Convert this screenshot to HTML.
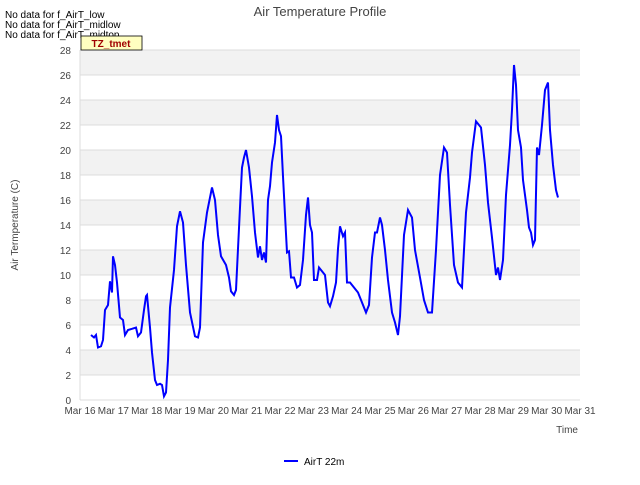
<!DOCTYPE html>
<html><head><meta charset="utf-8"><style>
body{margin:0;background:#fff;font-family:"Liberation Sans",sans-serif;}
svg text{font-family:"Liberation Sans",sans-serif;}
</style></head><body>
<svg id="chart" width="640" height="480" xmlns="http://www.w3.org/2000/svg">
<rect width="640" height="480" fill="#fff"/>
<g id="bands"></g>
<g id="grid"></g>
<g id="xticks"></g>
<g id="yticks"></g>
<line x1="80" y1="50" x2="80" y2="400" stroke="#dcdcdc"/>
<path id="series" fill="none" stroke="#0000ff" stroke-width="2"/>
<text x="320" y="16" text-anchor="middle" font-size="13" fill="#444">Air Temperature Profile</text>
<text x="18" y="225" text-anchor="middle" font-size="10" fill="#444" transform="rotate(-90 18 225)">Air Termperature (C)</text>
<text x="578" y="433" text-anchor="end" font-size="10" fill="#444">Time</text>
<text x="5" y="18" font-size="10" fill="#000">No data for f_AirT_low</text>
<text x="5" y="28" font-size="10" fill="#000">No data for f_AirT_midlow</text>
<text x="5" y="38" font-size="10" fill="#000">No data for f_AirT_midtop</text>
<rect x="81" y="36" width="61" height="14" fill="#ffffc0" stroke="#000" stroke-width="0.8"/>
<text x="111" y="47" text-anchor="middle" font-size="10" font-weight="bold" fill="#a00000">TZ_tmet</text>
<g>
<line x1="284" y1="461" x2="298" y2="461" stroke="#0000ff" stroke-width="2"/>
<text x="304" y="465" font-size="10" fill="#000">AirT 22m</text>
</g>
</svg>
<script>
const xTickLabels=["Mar 16","Mar 17","Mar 18","Mar 19","Mar 20","Mar 21","Mar 22","Mar 23","Mar 24","Mar 25","Mar 26","Mar 27","Mar 28","Mar 29","Mar 30","Mar 31"];
const yTickValues=[0,2,4,6,8,10,12,14,16,18,20,22,24,26,28];
const times=[0.33,0.42,0.48,0.54,0.63,0.69,0.75,0.84,0.9,0.96,0.99,1.05,1.11,1.2,1.29,1.35,1.44,1.56,1.68,1.74,1.83,1.92,1.98,2.01,2.1,2.16,2.25,2.31,2.4,2.46,2.52,2.58,2.64,2.7,2.82,2.91,3.0,3.09,3.18,3.3,3.45,3.54,3.6,3.69,3.81,3.96,4.05,4.14,4.23,4.38,4.47,4.53,4.62,4.68,4.8,4.86,4.92,4.98,5.07,5.16,5.25,5.34,5.4,5.46,5.52,5.58,5.64,5.7,5.76,5.85,5.91,5.97,6.03,6.09,6.15,6.21,6.27,6.33,6.42,6.51,6.6,6.69,6.78,6.84,6.9,6.96,7.02,7.11,7.17,7.26,7.35,7.44,7.5,7.59,7.68,7.74,7.8,7.89,7.95,8.01,8.1,8.22,8.34,8.46,8.58,8.67,8.76,8.85,8.91,9.0,9.06,9.15,9.24,9.36,9.45,9.54,9.6,9.72,9.84,9.96,10.05,10.2,10.32,10.44,10.56,10.68,10.8,10.92,11.01,11.1,11.22,11.34,11.46,11.58,11.7,11.76,11.88,12.03,12.15,12.24,12.36,12.48,12.54,12.6,12.69,12.78,12.9,12.96,13.02,13.08,13.14,13.23,13.29,13.41,13.47,13.53,13.59,13.65,13.71,13.77,13.86,13.95,14.04,14.1,14.19,14.28,14.34];
const temps=[5.2,5.0,5.2,4.2,4.3,4.8,7.2,7.6,9.5,8.6,11.5,10.8,9.4,6.6,6.4,5.2,5.6,5.7,5.8,5.1,5.4,7.2,8.3,8.4,5.8,3.8,1.6,1.2,1.3,1.2,0.3,0.6,3.2,7.4,10.4,13.9,15.1,14.2,10.8,7.0,5.1,5.0,5.8,12.6,15.0,17.0,16.0,13.2,11.5,10.8,9.8,8.7,8.4,8.8,15.4,18.6,19.4,20.0,18.6,16.3,13.4,11.4,12.3,11.2,11.8,11.0,16.0,17.1,19.0,20.6,22.8,21.6,21.1,17.9,14.8,11.8,11.9,9.8,9.8,9.0,9.2,11.2,14.8,16.2,14.0,13.4,9.6,9.6,10.6,10.3,10.0,7.8,7.5,8.3,9.4,12.1,13.9,13.1,13.4,9.4,9.4,9.0,8.6,7.8,7.0,7.6,11.4,13.4,13.4,14.6,14.0,12.0,9.6,7.0,6.2,5.2,6.7,13.2,15.2,14.6,12.0,9.8,8.0,7.0,7.0,12.0,18.0,20.2,19.8,15.6,10.8,9.4,9.0,15.0,17.8,19.8,22.3,21.8,18.8,15.8,13.0,10.0,10.6,9.6,11.2,16.4,20.4,23.2,26.8,25.2,21.6,20.2,17.6,15.2,13.8,13.4,12.4,12.8,20.2,19.6,22.0,24.8,25.4,21.6,18.8,16.8,16.2];
const L=80,R=580,T=50,B=400,ymax=28,days=15;
const xs=d=>L+(R-L)*d/days, ys=v=>B-(B-T)*v/ymax;
const NS="http://www.w3.org/2000/svg";
const bands=document.getElementById('bands'),grid=document.getElementById('grid');
for(let i=0;i<yTickValues.length-1;i++){
  if(i%2===1){const r=document.createElementNS(NS,'rect');
  
  
  r.setAttribute('x',L);r.setAttribute('width',R-L);
  r.setAttribute('y',ys(yTickValues[i+1]));r.setAttribute('height',ys(yTickValues[i])-ys(yTickValues[i+1]));
  r.setAttribute('fill','#f2f2f2');bands.appendChild(r);}
}
const yt=document.getElementById('yticks');
yTickValues.forEach(v=>{
  const l=document.createElementNS(NS,'line');
  
  
  l.setAttribute('x1',L);l.setAttribute('x2',R);l.setAttribute('y1',ys(v));l.setAttribute('y2',ys(v));
  l.setAttribute('stroke','#dcdcdc');grid.appendChild(l);
  const t=document.createElementNS(NS,'text');
  
  
  t.setAttribute('x',L-9);t.setAttribute('y',ys(v)+4);t.setAttribute('text-anchor','end');
  t.setAttribute('font-size','10');t.setAttribute('fill','#444');t.textContent=v;yt.appendChild(t);
});
const xt=document.getElementById('xticks');
xTickLabels.forEach((s,i)=>{
  const t=document.createElementNS(NS,'text');
  
  
  t.setAttribute('x',xs(i));t.setAttribute('y',B+14);t.setAttribute('text-anchor','middle');
  t.setAttribute('font-size','10');t.setAttribute('fill','#444');t.textContent=s;xt.appendChild(t);
});
document.getElementById('series').setAttribute('d',times.map((d,i)=>(i?'L':'M')+xs(d).toFixed(1)+','+ys(temps[i]).toFixed(1)).join(''));
</script>
</body></html>
